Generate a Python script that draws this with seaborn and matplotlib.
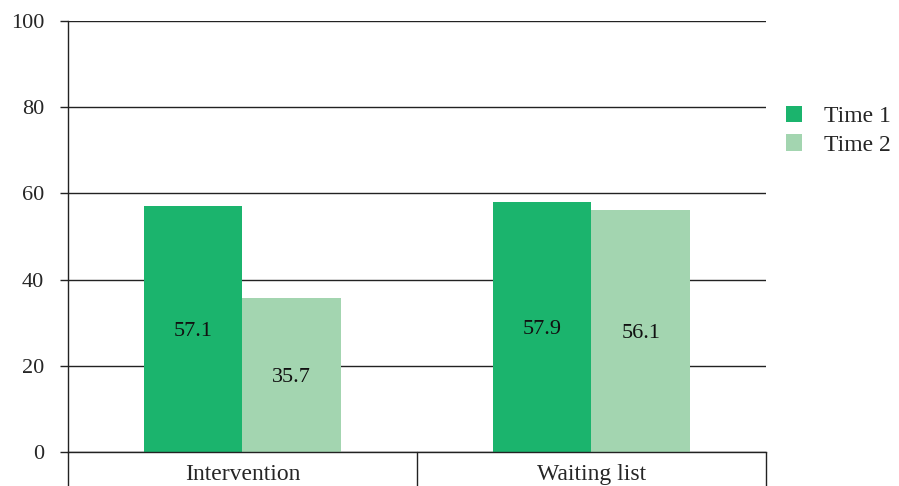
import pandas as pd
import matplotlib.pyplot as plt
import matplotlib.transforms as mtransforms
import seaborn as sns

groups = ['Intervention', 'Waiting list']
time1 = [57.1, 57.9]
time2 = [35.7, 56.1]
series = ['Time 1', 'Time 2']
colors = ['#1bb46d', '#a3d5b0']
y_ticks = [0, 20, 40, 60, 80, 100]

df = pd.DataFrame({
    'Group': groups * 2,
    'Time': [series[0]] * len(groups) + [series[1]] * len(groups),
    'Value': time1 + time2,
})

sns.set_style("white")
plt.rcParams['font.family'] = ['Liberation Serif', 'DejaVu Serif']

fig = plt.figure(figsize=(8.99, 4.86), dpi=100)
ax = fig.add_axes([0.0756, 0.07, 0.7764, 0.8868])

sns.barplot(data=df, x='Group', y='Value', hue='Time', order=groups,
            hue_order=series, palette=colors, width=0.565, saturation=1,
            linewidth=0, ax=ax, errorbar=None)

# value labels in the middle of each bar
for cont in ax.containers:
    labels = ax.bar_label(cont, fmt='%.1f', label_type='center', fontsize=16, color='#111111')
    for t in labels:
        t.set_va('center_baseline')

ax.set_ylim(0, 100)
ax.set_xlim(-0.5, 1.5)
ax.set_yticks(y_ticks)
ax.yaxis.grid(True, color='#222222', linewidth=1)
ax.set_axisbelow(True)
ax.tick_params(axis='y', length=6, width=1, color='#222222', labelsize=16, pad=11, direction='out', left=True)
ax.tick_params(axis='x', length=0, labelsize=17, pad=9)
ax.set_xlabel('')
ax.set_ylabel('')

for side in ['top', 'right']:
    ax.spines[side].set_visible(False)
for side in ['left', 'bottom']:
    ax.spines[side].set_color('#222222')
    ax.spines[side].set_linewidth(1)

# category box separators below the axis
trans = mtransforms.blended_transform_factory(ax.transData, ax.transAxes)
for xpos in [-0.5, 0.5, 1.5]:
    ax.plot([xpos, xpos], [0, -0.2], transform=trans, color='#222222',
            linewidth=1, clip_on=False)

leg = ax.legend(loc='upper left', bbox_to_anchor=(1.015, 0.825), frameon=False,
                fontsize=17, handlelength=0.7, handleheight=0.7,
                handletextpad=0.9, labelspacing=0.28, borderaxespad=0)

fig.savefig('out.png', dpi=100)
